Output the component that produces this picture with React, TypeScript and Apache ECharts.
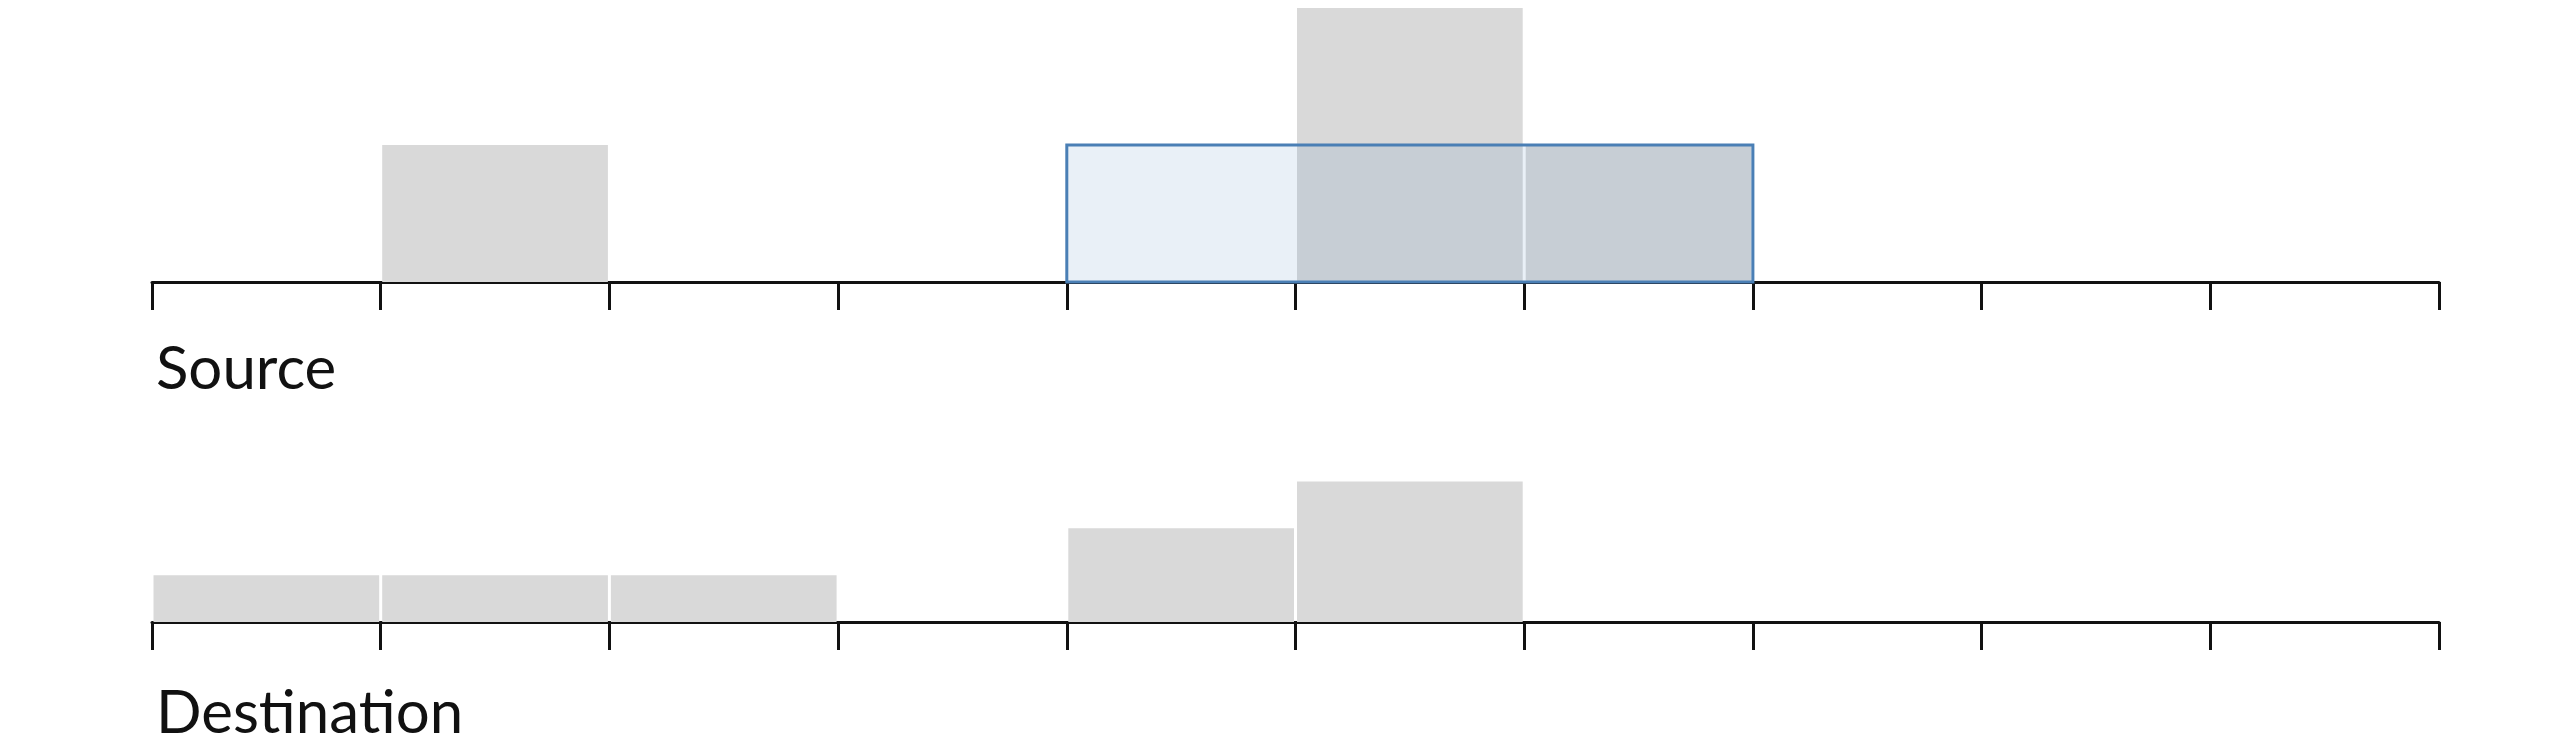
import { useEffect, useRef } from 'react'
import * as echarts from 'echarts'

// bin starts 0..9, counts per bin
const bins = [0, 1, 2, 3, 4, 5, 6, 7, 8, 9]
const sourceCounts = [0, 1, 0, 0, 0, 2, 1, 0, 0, 0]
const destCounts = [1, 1, 1, 0, 2, 3, 0, 0, 0, 0]
// selected range on the source axis: [from, to, height]
const selection = [[4, 7, 1]]

const GRAY = '#d9d9d9'

function barItem(params: any, api: any) {
  const x0 = api.value(0)
  const c = api.value(1)
  if (!c) return null
  const p0 = api.coord([x0, c])
  const p1 = api.coord([x0 + 1, 0])
  return {
    type: 'rect',
    shape: { x: p0[0] + 1.5, y: p0[1], width: p1[0] - p0[0] - 3, height: p1[1] - p0[1] },
    style: { fill: GRAY }
  }
}

function selItem(params: any, api: any) {
  const p0 = api.coord([api.value(0), api.value(2)])
  const p1 = api.coord([api.value(1), 0])
  return {
    type: 'rect',
    shape: { x: p0[0], y: p0[1], width: p1[0] - p0[0], height: p1[1] - p0[1] },
    style: { fill: 'rgba(70,130,190,0.12)', stroke: '#4a7fb5', lineWidth: 3 }
  }
}

const xAxisBase = {
  type: 'value' as const,
  min: 0,
  max: 10,
  interval: 1,
  axisLine: { show: true, onZero: false, lineStyle: { color: '#111', width: 3 } },
  axisTick: { show: true, length: 28, lineStyle: { color: '#111', width: 3 } },
  axisLabel: { show: false },
  splitLine: { show: false }
}

export default function App() {
  const ref = useRef<HTMLDivElement>(null)

  useEffect(() => {
    if (!ref.current) return
    const chart = echarts.init(ref.current, null, { renderer: 'svg' })
    chart.setOption({
      animation: false,
      grid: [
        { left: 144, right: 121, top: -8, height: 282 },
        { left: 144, right: 121, top: 333, height: 281 }
      ],
      xAxis: [
        { ...xAxisBase, gridIndex: 0 },
        { ...xAxisBase, gridIndex: 1 }
      ],
      yAxis: [
        { type: 'value', gridIndex: 0, min: 0, max: 2, show: false },
        { type: 'value', gridIndex: 1, min: 0, max: 6, show: false }
      ],
      series: [
        {
          type: 'custom', xAxisIndex: 0, yAxisIndex: 0, z: 1,
          renderItem: barItem,
          data: bins.map((b, i) => [b, sourceCounts[i]])
        },
        {
          type: 'custom', xAxisIndex: 0, yAxisIndex: 0, z: 3,
          renderItem: selItem,
          data: selection
        },
        {
          type: 'custom', xAxisIndex: 1, yAxisIndex: 1, z: 1,
          renderItem: barItem,
          data: bins.map((b, i) => [b, destCounts[i]])
        }
      ],
      graphic: [
        { type: 'text', left: 148, top: 328, style: { text: 'Source', font: '60px Lato, sans-serif', fill: '#111' } },
        { type: 'text', left: 148, top: 672, style: { text: 'Destination', font: '60px Lato, sans-serif', fill: '#111' } }
      ]
    })
    return () => chart.dispose()
  }, [])

  return <div ref={ref} style={{ width: 2552, height: 734 }} />
}
